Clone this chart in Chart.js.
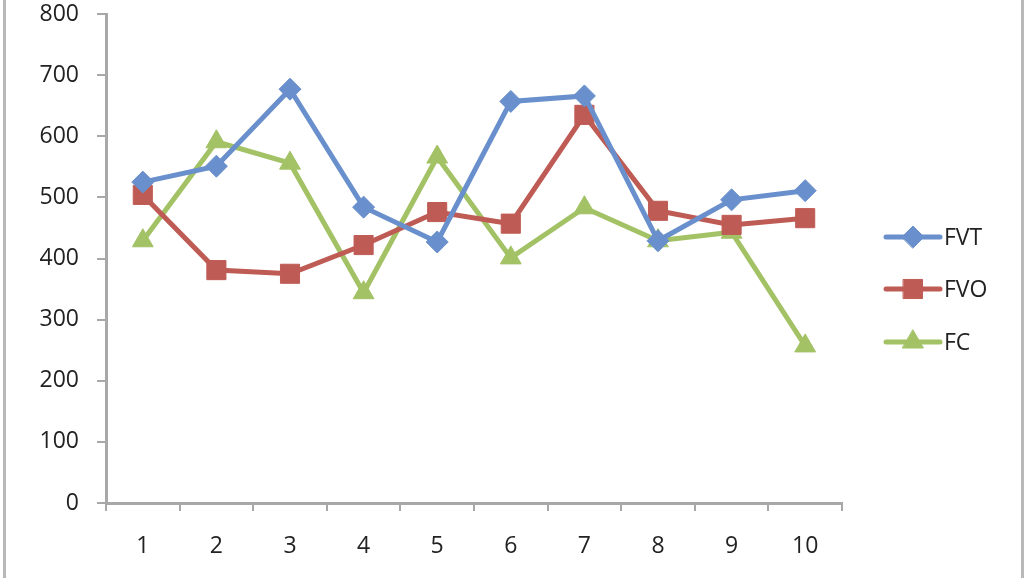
<!DOCTYPE html>
<html><head><meta charset="utf-8">
<script src="https://cdn.jsdelivr.net/npm/chart.js@4/dist/chart.umd.min.js"></script>
<style>html,body{margin:0;padding:0;background:#fff;}#wrap{width:1027px;height:578px;}</style>
</head><body><div id="wrap"><canvas id="c" width="1027" height="578"></canvas></div>
<script>
const categories = ['1','2','3','4','5','6','7','8','9','10'];
const fvt = [525, 551, 677, 484, 427, 657, 666, 429, 496, 511];
const fvo = [504, 381, 375, 422, 476, 457, 635, 478, 455, 466];
const fc  = [429, 591, 556, 344, 566, 401, 483, 429, 443, 257];
const seriesNames = ['FVT', 'FVO', 'FC'];
const yTicks = [0, 100, 200, 300, 400, 500, 600, 700, 800];

const colors = ['#6990cc', '#bf5b55', '#a3c265'];
const axisColor = '#a8a8a8';
const FONT = "'Open Sans', 'Liberation Sans', sans-serif";

const frame = {
  id: 'frame',
  beforeDraw(chart) {
    const ctx = chart.ctx;
    ctx.save();
    ctx.fillStyle = '#fff';
    ctx.fillRect(0, 0, chart.width, chart.height);
    ctx.strokeStyle = '#b8b8b8';
    ctx.lineWidth = 3;
    ctx.beginPath();
    ctx.moveTo(4.5, 0); ctx.lineTo(4.5, chart.height);
    ctx.moveTo(1022.5, 0); ctx.lineTo(1022.5, chart.height);
    ctx.stroke();
    ctx.restore();
  },
  afterDraw(chart) {
    const ctx = chart.ctx;
    ctx.save();
    const ys = [237, 289, 342];
    chart.data.datasets.forEach((ds, i) => {
      const y = ys[i];
      ctx.strokeStyle = ds.borderColor;
      ctx.lineWidth = 5;
      ctx.lineCap = 'round';
      ctx.beginPath(); ctx.moveTo(886, y); ctx.lineTo(940, y); ctx.stroke();
      ctx.fillStyle = ds.backgroundColor;
      ctx.strokeStyle = ds.borderColor;
      ctx.lineWidth = 1;
      Chart.helpers.drawPoint(ctx, {
        pointStyle: ds.pointStyle, radius: ds.pointRadius, rotation: ds.pointRotation || 0, borderWidth: 1
      }, 913, y);
      ctx.fillStyle = '#222';
      ctx.font = '23px ' + FONT;
      ctx.textBaseline = 'middle';
      ctx.textAlign = 'left';
      ctx.fillText(ds.label, 944, y + 1);
    });
    ctx.restore();
  }
};

function mk(label, data, i, style, r, rot) {
  return {
    label, data,
    borderColor: colors[i], backgroundColor: colors[i],
    borderWidth: 5, pointStyle: style, pointRadius: r, pointHoverRadius: r,
    pointRotation: rot || 0, pointBorderWidth: 1, tension: 0
  };
}

new Chart(document.getElementById('c'), {
  type: 'line',
  data: {
    labels: categories,
    datasets: [
      mk(seriesNames[0], fvt, 0, 'rectRot', 11),
      mk(seriesNames[1], fvo, 1, 'rect', 13.5),
      mk(seriesNames[2], fc, 2, 'triangle', 12)
    ]
  },
  options: {
    responsive: false, animation: false,
    layout: { autoPadding: false, padding: { left: 0, right: 185, top: 0, bottom: 0 } },
    plugins: { legend: { display: false }, tooltip: { enabled: false } },
    scales: {
      x: {
        offset: true,
        grid: { offset: true, drawOnChartArea: false, color: axisColor, tickLength: 8, lineWidth: 2 },
        border: { color: axisColor, width: 3 },
        ticks: { color: '#222', font: { family: FONT, size: 23 }, padding: 22 },
        afterFit(s) { s.height = 75; }
      },
      y: {
        min: 0, max: 800,
        afterBuildTicks(s) { s.ticks = yTicks.map(v => ({ value: v })); },
        grid: { drawOnChartArea: false, color: axisColor, tickLength: 9, lineWidth: 2 },
        border: { color: axisColor, width: 3 },
        ticks: { color: '#222', font: { family: FONT, size: 23 }, padding: 18 },
        afterFit(s) { s.width = 106; s.paddingTop = 14; s.paddingBottom = 0; }
      }
    }
  },
  plugins: [frame]
});
</script>
</body></html>
